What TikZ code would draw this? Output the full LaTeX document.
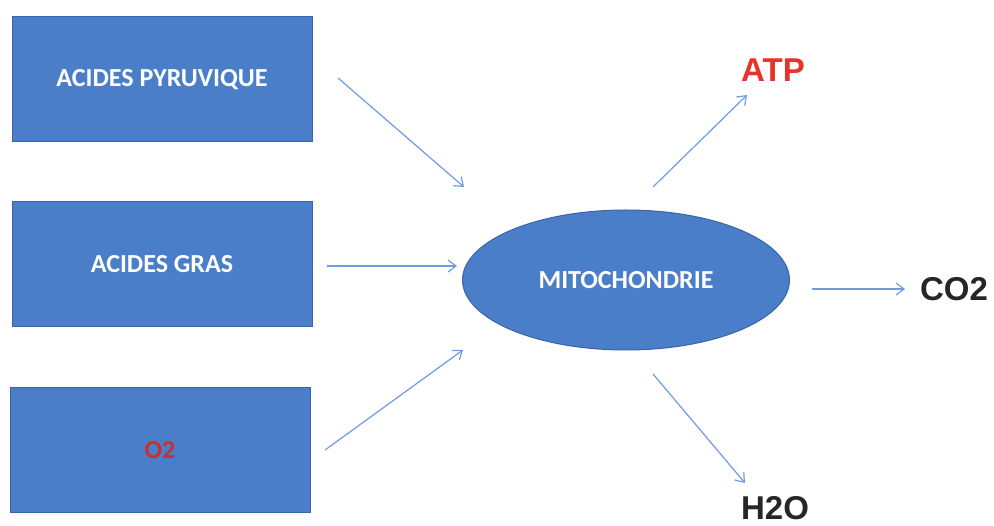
\documentclass[tikz,border=0pt]{standalone}
\usepackage{fontspec}
\setmainfont{Carlito}
\newfontfamily\labfont{Liberation Sans}
\usetikzlibrary{shapes.geometric,arrows.meta}
\definecolor{boxblue}{HTML}{4A7EC9}
\definecolor{boxedge}{HTML}{3A64A6}
\definecolor{arrblue}{HTML}{6F9BE2}
\definecolor{atpred}{HTML}{E8322B}
\definecolor{o2red}{HTML}{C8302E}
\definecolor{darktext}{HTML}{262626}
\tikzset{
  inbox/.style={draw=boxedge, line width=1pt, fill=boxblue, minimum width=300pt, minimum height=125pt, inner sep=0pt, text=white, font=\bfseries\fontsize{26}{26}\selectfont},
  mito/.style={ellipse, draw=boxedge, line width=1pt, fill=boxblue, minimum width=327pt, minimum height=140pt, inner sep=0pt, text=white, font=\bfseries\fontsize{26}{26}\selectfont},
  outlabel/.style={font=\labfont\bfseries\fontsize{33}{33}\selectfont, inner sep=0pt},
  conn/.style={draw=arrblue, line width=1.2pt, -{Straight Barb[length=8pt,width=12pt]}}
}
\begin{document}
\begin{tikzpicture}[x=1pt,y=-1pt]
\useasboundingbox (0,0) rectangle (994,526);
\node[inbox] (b1) at (162,79.5) {ACIDES PYRUVIQUE};
\node[inbox] (b2) at (162,264.5) {ACIDES GRAS};
\node[inbox] (b3) at (160,450.5) {\textcolor{o2red}{O2}};
\node[mito] (m) at (626,280) {MITOCHONDRIE};
\node[outlabel, text=atpred] (atp) at (773,70) {ATP};
\node[outlabel, text=darktext] (co2) at (954,289) {CO2};
\node[outlabel, text=darktext] (h2o) at (775,508) {H2O};
\coordinate (s1) at (338,78); \coordinate (e1) at (464,187);
\coordinate (s2) at (327,266); \coordinate (e2) at (457,266);
\coordinate (s3) at (325,450); \coordinate (e3) at (463,350);
\coordinate (s4) at (653,187); \coordinate (e4) at (747,95);
\coordinate (s5) at (812,289); \coordinate (e5) at (905,289);
\coordinate (s6) at (653,374); \coordinate (e6) at (745,483);
\draw[conn] (s1) -- (e1);
\draw[conn] (s2) -- (e2);
\draw[conn] (s3) -- (e3);
\draw[conn] (s4) -- (e4);
\draw[conn] (s5) -- (e5);
\draw[conn] (s6) -- (e6);
\end{tikzpicture}
\end{document}
